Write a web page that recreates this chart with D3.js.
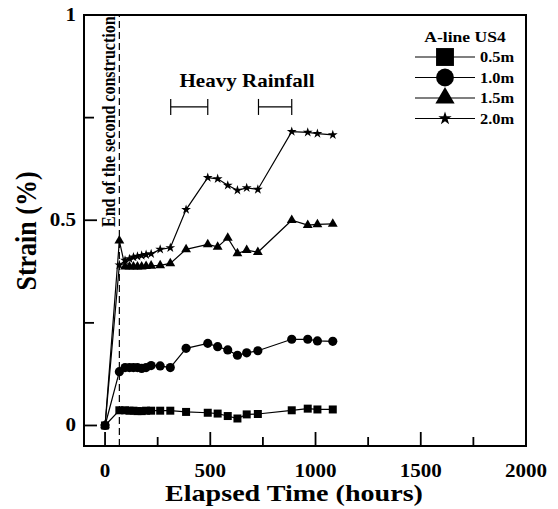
<!DOCTYPE html>
<html>
<head>
<meta charset="utf-8">
<script src="https://cdn.jsdelivr.net/npm/d3@7"></script>
<style>
body { margin: 0; background: #fff; }
text { font-family: "Liberation Serif", "Times New Roman", serif; font-weight: bold; }
</style>
</head>
<body>
<svg id="plotCanvas" width="558" height="509"></svg>
<script>
// elapsed time (hours) shared by all series
var hours = [0, 68, 95, 116, 135, 154, 174, 195, 219, 262, 310, 385, 488, 535, 583, 629, 673, 726, 887, 963, 1009, 1082];
var strain05 = [0, 0.037, 0.037, 0.036, 0.036, 0.035, 0.035, 0.036, 0.036, 0.036, 0.036, 0.033, 0.031, 0.029, 0.023, 0.017, 0.027, 0.028, 0.037, 0.041, 0.039, 0.039];
var strain10 = [0, 0.131, 0.141, 0.141, 0.141, 0.141, 0.139, 0.141, 0.146, 0.145, 0.141, 0.188, 0.200, 0.192, 0.184, 0.171, 0.177, 0.182, 0.210, 0.210, 0.206, 0.205];
var strain15 = [0, 0.450, 0.387, 0.387, 0.387, 0.387, 0.387, 0.388, 0.389, 0.390, 0.395, 0.429, 0.441, 0.435, 0.457, 0.419, 0.427, 0.422, 0.500, 0.488, 0.490, 0.491];
var strain20 = [0, 0.391, 0.402, 0.406, 0.410, 0.412, 0.414, 0.416, 0.418, 0.429, 0.433, 0.526, 0.604, 0.601, 0.585, 0.573, 0.579, 0.575, 0.716, 0.714, 0.711, 0.708];

var seriesNames = ["0.5m", "1.0m", "1.5m", "2.0m"];
var xTicks = [0, 500, 1000, 1500, 2000];
var yTicks = [0, 0.5, 1];
var yLabels = ["0", "0.5", "1"];
var constructionEnd = 68;
var rainfall = [[312, 488], [729, 887]];

var canvas = d3.select("#plotCanvas");
var plotLeft = 84, plotRight = 526, plotTop = 15, plotBottom = 446;
var stretch = 1.17;   // the original's lettering is a bit wide

var x = d3.scaleLinear().domain([-100, 2000]).range([plotLeft, plotRight]);
var y = d3.scaleLinear().domain([-0.05, 1]).range([plotBottom, plotTop]);

var shapes = [d3.symbolSquare, d3.symbolCircle, d3.symbolTriangle, d3.symbolStar];
var sizes = [64, 66, 42, 30];
var legendSizes = [320, 250, 160, 55];
var allSeries = [strain05, strain10, strain15, strain20];

function addText(tx, ty, str, size, anchor, rotated)
{
    var tf = "translate(" + tx + "," + ty + ")" +
        (rotated ? " rotate(-90) scale(1," + stretch + ")" : " scale(" + stretch + ",1)");
    return canvas.append("g").attr("transform", tf)
        .append("text")
        .attr("text-anchor", anchor)
        .attr("font-size", size + "px")
        .text(str);
}

// dashed line: end of second construction
canvas.append("line")
    .attr("x1", x(constructionEnd)).attr("x2", x(constructionEnd))
    .attr("y1", plotBottom).attr("y2", plotTop)
    .attr("stroke", "#000").attr("stroke-width", 1.2)
    .attr("stroke-dasharray", "7,4");

addText(x(constructionEnd) - 4, 227, "End of the second construction", 16, "start", true);

// heavy rainfall brackets
rainfall.forEach(function(r)
{
    var by = y(0.776);
    canvas.append("line").attr("x1", x(r[0])).attr("x2", x(r[1]))
        .attr("y1", by).attr("y2", by).attr("stroke", "#000").attr("stroke-width", 1.2);
    r.forEach(function(v)
    {
        canvas.append("line").attr("x1", x(v)).attr("x2", x(v))
            .attr("y1", by - 8).attr("y2", by + 8).attr("stroke", "#000").attr("stroke-width", 1.2);
    });
});
addText(247, 87, "Heavy Rainfall", 18, "middle", false);

// series
var line = d3.line().x(function(d) { return x(d[0]); }).y(function(d) { return y(d[1]); });
allSeries.forEach(function(s, i)
{
    var pts = hours.map(function(h, j) { return [h, s[j]]; });
    canvas.append("path")
        .attr("d", line(pts))
        .attr("fill", "none").attr("stroke", "#000").attr("stroke-width", 1.2);
    canvas.selectAll(".pt" + i).data(pts).enter().append("path")
        .attr("class", "pt" + i)
        .attr("transform", function(d) { return "translate(" + x(d[0]) + "," + y(d[1]) + ")"; })
        .attr("d", d3.symbol().type(shapes[i]).size(sizes[i]))
        .attr("fill", "#000");
});

// frame
canvas.append("rect")
    .attr("x", plotLeft).attr("y", plotTop)
    .attr("width", plotRight - plotLeft).attr("height", plotBottom - plotTop)
    .attr("fill", "none").attr("stroke", "#000").attr("stroke-width", 2);

// x axis ticks (inward)
d3.range(0, 2001, 250).forEach(function(v)
{
    var len = (v % 500 === 0) ? 14 : 9;
    canvas.append("line").attr("x1", x(v)).attr("x2", x(v))
        .attr("y1", plotBottom).attr("y2", plotBottom - len)
        .attr("stroke", "#000").attr("stroke-width", 1.8);
});
xTicks.forEach(function(v)
{
    addText(x(v), 477, String(v), 18, "middle", false);
});

// y axis ticks
d3.range(0, 1.01, 0.25).forEach(function(v)
{
    var len = (Math.abs(v * 2 - Math.round(v * 2)) < 1e-6) ? 13 : 10;
    canvas.append("line").attr("x1", plotLeft).attr("x2", plotLeft + len)
        .attr("y1", y(v)).attr("y2", y(v))
        .attr("stroke", "#000").attr("stroke-width", 1.8);
});
yTicks.forEach(function(v, i)
{
    addText(76, y(v) + 6, yLabels[i], 18, "end", false);
});

// axis titles
addText(294, 501, "Elapsed Time (hours)", 24, "middle", false);
addText(36, 231, "Strain (%)", 26, "middle", true);

// legend
addText(465, 42, "A-line US4", 15, "middle", false);
seriesNames.forEach(function(name, i)
{
    var ly = 57 + i * 20.5;
    canvas.append("line").attr("x1", 415).attr("x2", 475)
        .attr("y1", ly).attr("y2", ly).attr("stroke", "#000").attr("stroke-width", 1.2);
    canvas.append("path")
        .attr("transform", "translate(445," + ly + ")")
        .attr("d", d3.symbol().type(shapes[i]).size(legendSizes[i]))
        .attr("fill", "#000");
    addText(480, ly + 5, name, 14, "start", false);
});
</script>
</body>
</html>
